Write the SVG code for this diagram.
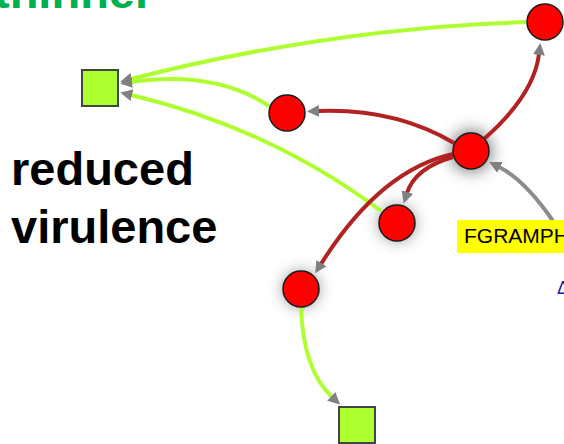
<svg xmlns="http://www.w3.org/2000/svg" width="564" height="444" viewBox="0 0 564 444">
<style>
.big{font-family:"Liberation Sans",Arial,sans-serif;font-weight:bold;font-size:47px}
.n{fill:#ff0000;stroke:#1a1a1a;stroke-width:1.5}
.sq{fill:#adff2f;stroke:#444;stroke-width:2}
.g{fill:none;stroke:#adff2f;stroke-width:4}
.r{fill:none;stroke:#b22222;stroke-width:4}
.gr{fill:none;stroke:#8c8c8c;stroke-width:4}
.glow{fill:#000;opacity:0.5;filter:url(#blur)}
</style>
<defs>
<filter id="blur" x="-100%" y="-100%" width="300%" height="300%"><feGaussianBlur stdDeviation="8"/></filter>
<marker id="ah" markerUnits="userSpaceOnUse" markerWidth="13" markerHeight="12" refX="1" refY="6" orient="auto" viewBox="0 0 13 12">
<path d="M0,0 L12,6 L0,12 z" fill="#808080"/>
</marker>
</defs>
<rect width="564" height="444" fill="#fff"/>
<text class="big" x="-6" y="8" fill="#00b050">thinner</text>
<text class="big" x="11" y="185" fill="#000">reduced</text>
<text class="big" x="11" y="243" fill="#000">virulence</text>
<g id="shadows">
<circle class="glow" cx="471" cy="151" r="21"/>
<circle class="glow" cx="397" cy="223" r="17"/>
<circle class="glow" cx="301" cy="289" r="17"/>
</g>
<g id="connectors">
<path class="g" d="M528 22 Q330 28 131 79" marker-end="url(#ah)"/>
<path class="g" d="M269 106 Q215 70 131 82" marker-end="url(#ah)"/>
<path class="g" d="M381 211 Q270 128 131 95" marker-end="url(#ah)"/>
<path class="g" d="M301 307 Q303 370 332 397" marker-end="url(#ah)"/>
<path class="r" d="M484 139 Q534 95 539 54" marker-end="url(#ah)"/>
<path class="r" d="M454 143 Q395 108 318 111" marker-end="url(#ah)"/>
<path class="r" d="M453 157 Q415 168 407 193" marker-end="url(#ah)"/>
<path class="r" d="M453 154 Q380 170 321 264" marker-end="url(#ah)"/>
<path class="gr" d="M553 221 Q525 180 499 167" marker-end="url(#ah)"/>
</g>
<g id="n1"><circle class="n" cx="545" cy="22" r="18"/></g>
<g id="n2"><circle class="n" cx="287" cy="113" r="18"/></g>
<g id="n3"><circle class="n" cx="471" cy="151" r="18"/></g>
<g id="n4"><circle class="n" cx="397" cy="223" r="18"/></g>
<g id="n5"><circle class="n" cx="301" cy="289" r="18"/></g>
<g id="s1"><rect class="sq" x="82" y="70" width="36" height="36"/></g>
<g id="s2"><rect class="sq" x="339" y="407" width="36" height="36"/></g>
<g id="label">
<rect x="457" y="220" width="110" height="33" fill="#ffff00"/>
<text x="464" y="243" font-family="'Liberation Sans',Arial,sans-serif" font-size="21" fill="#000">FGRAMPH</text>
</g>
<text x="557" y="294" font-family="'Liberation Sans',Arial,sans-serif" font-size="18" fill="#1a1aa0">Δ</text>
</svg>
